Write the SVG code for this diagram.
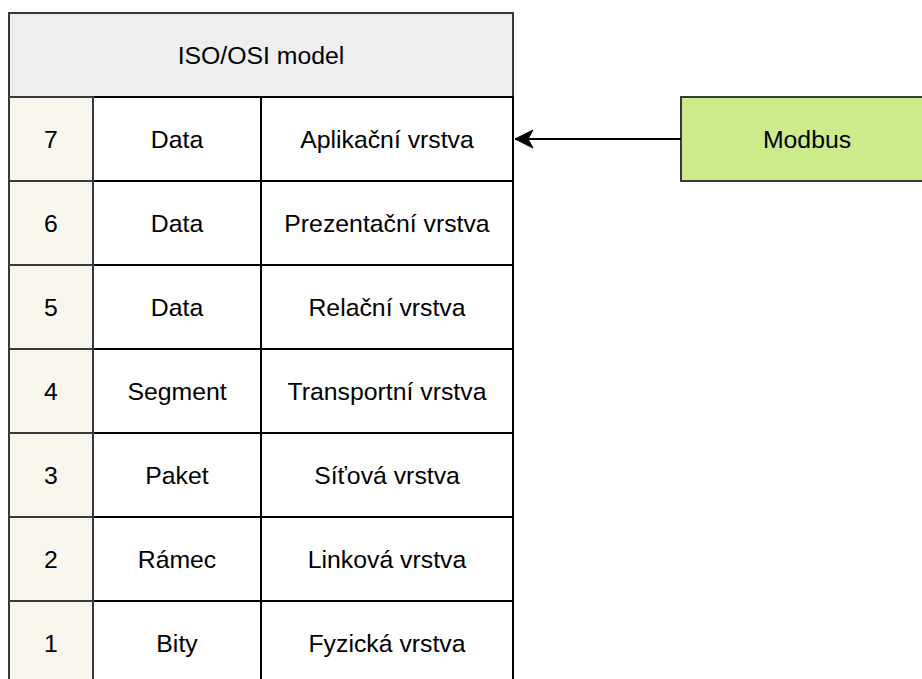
<svg xmlns="http://www.w3.org/2000/svg" width="922" height="679" viewBox="0 0 922 679">
<defs>
<style>
text{font-family:"Liberation Sans",Arial,Helvetica,sans-serif;font-size:24.8px;fill:#000;text-anchor:middle;dominant-baseline:central}
.hdr{fill:#eeeeee;stroke:#36393d;stroke-width:2}
.num{fill:#f9f7ed;stroke:#36393d;stroke-width:2}
.cell{fill:#ffffff;stroke:#000000;stroke-width:2}
.mod{fill:#cdeb8b;stroke:#36393d;stroke-width:2}
.conn{stroke:#000;stroke-width:2;fill:none}
</style>
<marker id="arr" markerWidth="20" markerHeight="20" viewBox="0 0 20 20" refX="19" refY="10" orient="auto" markerUnits="userSpaceOnUse">
<path d="M19,10 L1,1 L6,10 L1,19 Z" fill="#000" stroke="#000" stroke-width="1"/>
</marker>
</defs>
<g id="header"><rect class="hdr" x="9" y="13" width="504" height="84"/><text x="261" y="55">ISO/OSI model</text></g>
<g id="layer7"><rect class="cell" x="93" y="97" width="168" height="84"/><rect class="cell" x="261" y="97" width="252" height="84"/><rect class="num" x="9" y="97" width="84" height="84"/><text x="51" y="139">7</text><text x="177" y="139">Data</text><text x="387" y="139">Aplikační vrstva</text></g>
<g id="layer6"><rect class="cell" x="93" y="181" width="168" height="84"/><rect class="cell" x="261" y="181" width="252" height="84"/><rect class="num" x="9" y="181" width="84" height="84"/><text x="51" y="223">6</text><text x="177" y="223">Data</text><text x="387" y="223">Prezentační vrstva</text></g>
<g id="layer5"><rect class="cell" x="93" y="265" width="168" height="84"/><rect class="cell" x="261" y="265" width="252" height="84"/><rect class="num" x="9" y="265" width="84" height="84"/><text x="51" y="307">5</text><text x="177" y="307">Data</text><text x="387" y="307">Relační vrstva</text></g>
<g id="layer4"><rect class="cell" x="93" y="349" width="168" height="84"/><rect class="cell" x="261" y="349" width="252" height="84"/><rect class="num" x="9" y="349" width="84" height="84"/><text x="51" y="391">4</text><text x="177" y="391">Segment</text><text x="387" y="391">Transportní vrstva</text></g>
<g id="layer3"><rect class="cell" x="93" y="433" width="168" height="84"/><rect class="cell" x="261" y="433" width="252" height="84"/><rect class="num" x="9" y="433" width="84" height="84"/><text x="51" y="475">3</text><text x="177" y="475">Paket</text><text x="387" y="475">Síťová vrstva</text></g>
<g id="layer2"><rect class="cell" x="93" y="517" width="168" height="84"/><rect class="cell" x="261" y="517" width="252" height="84"/><rect class="num" x="9" y="517" width="84" height="84"/><text x="51" y="559">2</text><text x="177" y="559">Rámec</text><text x="387" y="559">Linková vrstva</text></g>
<g id="layer1"><rect class="cell" x="93" y="601" width="168" height="84"/><rect class="cell" x="261" y="601" width="252" height="84"/><rect class="num" x="9" y="601" width="84" height="84"/><text x="51" y="643">1</text><text x="177" y="643">Bity</text><text x="387" y="643">Fyzická vrstva</text></g>
<g id="modbus"><rect class="mod" x="681" y="97" width="252" height="84"/><text x="807" y="139">Modbus</text></g>
<g id="connectors"><line class="conn" x1="681" y1="139" x2="515" y2="139" marker-end="url(#arr)"/></g>
</svg>
